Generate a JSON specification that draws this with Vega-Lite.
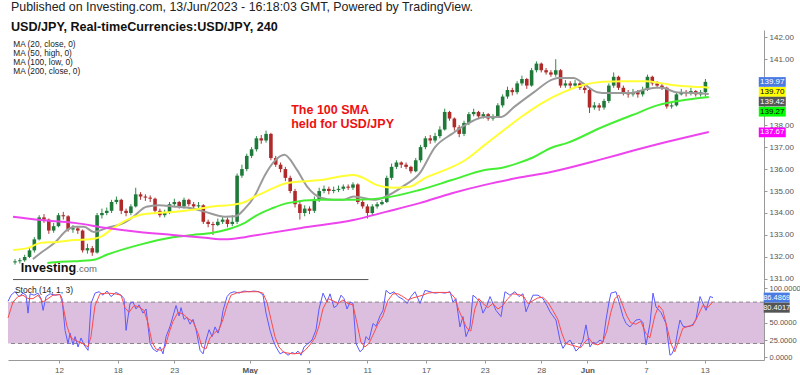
{
"$schema": "https://vega.github.io/schema/vega-lite/v6.json",
"background": "white",
"padding": {"left": 5, "top": 1, "right": 0, "bottom": 0},
"bounds": "flush",
"config": {"view": {"stroke": null}, "font": "Liberation Sans", "axis": {"labelOverlap": false, "labelFlush": false, "grid": false, "domainColor": "#999", "tickColor": "#999", "tickSize": 3, "labelColor": "#555", "labelPadding": 2}},
"title": {"text": "Published on Investing.com, 13/Jun/2023 - 16:18:03 GMT, Powered by TradingView.", "subtitle": "USD/JPY, Real-timeCurrencies:USD/JPY, 240", "anchor": "start", "frame": "bounds", "dx": 6, "font": "Liberation Sans", "fontSize": 12.4, "fontWeight": "normal", "color": "#222", "subtitleFont": "Liberation Sans", "subtitleFontSize": 12.6, "subtitleFontWeight": "bold", "subtitleColor": "#111", "subtitlePadding": 8, "offset": -4},
"datasets": {
"ohlc": [
{"i":0,"o":131.75,"h":131.9,"l":131.65,"c":131.8},{"i":1,"o":131.8,"h":131.95,"l":131.7,"c":131.85},{"i":2,"o":131.85,"h":132.1,"l":131.78,"c":132.0},{"i":3,"o":132.0,"h":132.45,"l":131.95,"c":132.3},{"i":4,"o":132.3,"h":132.9,"l":132.2,"c":132.8},{"i":5,"o":132.8,"h":133.9,"l":132.75,"c":133.8},{"i":6,"o":133.8,"h":133.95,"l":133.55,"c":133.7},{"i":7,"o":133.7,"h":133.75,"l":133.05,"c":133.2},{"i":8,"o":133.2,"h":133.55,"l":133.1,"c":133.4},{"i":9,"o":133.4,"h":134.0,"l":133.35,"c":133.9},
{"i":10,"o":133.9,"h":134.05,"l":133.7,"c":133.85},{"i":11,"o":133.85,"h":133.9,"l":133.15,"c":133.25},{"i":12,"o":133.25,"h":133.45,"l":133.1,"c":133.3},{"i":13,"o":133.3,"h":133.4,"l":133.05,"c":133.2},{"i":14,"o":133.2,"h":133.25,"l":132.2,"c":132.3},{"i":15,"o":132.3,"h":132.6,"l":132.15,"c":132.4},{"i":16,"o":132.4,"h":132.5,"l":132.05,"c":132.2},{"i":17,"o":132.2,"h":134.0,"l":132.15,"c":133.9},{"i":18,"o":133.9,"h":134.2,"l":133.75,"c":134.0},{"i":19,"o":134.0,"h":134.25,"l":133.9,"c":134.1},
{"i":20,"o":134.1,"h":134.6,"l":134.0,"c":134.5},{"i":21,"o":134.5,"h":134.75,"l":134.4,"c":134.6},{"i":22,"o":134.6,"h":134.65,"l":133.95,"c":134.1},{"i":23,"o":134.1,"h":134.2,"l":133.85,"c":134.0},{"i":24,"o":134.0,"h":134.4,"l":133.9,"c":134.3},{"i":25,"o":134.3,"h":135.15,"l":134.25,"c":134.85},{"i":26,"o":134.85,"h":134.95,"l":134.6,"c":134.75},{"i":27,"o":134.75,"h":134.85,"l":134.55,"c":134.7},{"i":28,"o":134.7,"h":134.8,"l":134.5,"c":134.65},{"i":29,"o":134.65,"h":134.7,"l":134.0,"c":134.1},
{"i":30,"o":134.1,"h":134.2,"l":133.8,"c":133.9},{"i":31,"o":133.9,"h":134.15,"l":133.8,"c":134.0},{"i":32,"o":134.0,"h":134.5,"l":133.95,"c":134.4},{"i":33,"o":134.4,"h":134.65,"l":134.3,"c":134.5},{"i":34,"o":134.5,"h":134.55,"l":134.2,"c":134.3},{"i":35,"o":134.3,"h":134.7,"l":134.2,"c":134.6},{"i":36,"o":134.6,"h":134.65,"l":134.3,"c":134.4},{"i":37,"o":134.4,"h":134.5,"l":134.2,"c":134.3},{"i":38,"o":134.3,"h":134.5,"l":134.2,"c":134.35},{"i":39,"o":134.35,"h":134.4,"l":133.5,"c":133.6},
{"i":40,"o":133.6,"h":133.7,"l":133.35,"c":133.5},{"i":41,"o":133.5,"h":133.6,"l":133.0,"c":133.45},{"i":42,"o":133.45,"h":133.75,"l":133.4,"c":133.6},{"i":43,"o":133.6,"h":133.85,"l":133.5,"c":133.7},{"i":44,"o":133.7,"h":133.8,"l":133.35,"c":133.5},{"i":45,"o":133.5,"h":133.9,"l":133.4,"c":133.6},{"i":46,"o":133.6,"h":135.8,"l":133.5,"c":135.7},{"i":47,"o":135.7,"h":136.2,"l":135.6,"c":136.0},{"i":48,"o":136.0,"h":136.7,"l":135.9,"c":136.6},{"i":49,"o":136.6,"h":137.0,"l":136.5,"c":136.9},
{"i":50,"o":136.9,"h":137.5,"l":136.8,"c":137.4},{"i":51,"o":137.4,"h":137.55,"l":137.15,"c":137.3},{"i":52,"o":137.3,"h":137.75,"l":137.2,"c":137.6},{"i":53,"o":137.6,"h":137.65,"l":136.4,"c":136.5},{"i":54,"o":136.5,"h":136.6,"l":136.1,"c":136.2},{"i":55,"o":136.2,"h":136.3,"l":135.85,"c":136.0},{"i":56,"o":136.0,"h":136.1,"l":135.45,"c":135.6},{"i":57,"o":135.6,"h":135.7,"l":134.9,"c":135.0},{"i":58,"o":135.0,"h":135.1,"l":134.25,"c":134.4},{"i":59,"o":134.4,"h":134.5,"l":133.7,"c":134.0},
{"i":60,"o":134.0,"h":134.35,"l":133.85,"c":134.2},{"i":61,"o":134.2,"h":134.3,"l":133.95,"c":134.1},{"i":62,"o":134.1,"h":134.75,"l":134.0,"c":134.6},{"i":63,"o":134.6,"h":135.15,"l":134.5,"c":135.0},{"i":64,"o":135.0,"h":135.25,"l":134.9,"c":135.1},{"i":65,"o":135.1,"h":135.2,"l":134.85,"c":135.0},{"i":66,"o":135.0,"h":135.2,"l":134.9,"c":135.05},{"i":67,"o":135.05,"h":135.25,"l":134.95,"c":135.1},{"i":68,"o":135.1,"h":135.3,"l":135.0,"c":135.2},{"i":69,"o":135.2,"h":135.3,"l":135.05,"c":135.15},
{"i":70,"o":135.15,"h":135.4,"l":135.05,"c":135.3},{"i":71,"o":135.3,"h":135.35,"l":134.4,"c":134.5},{"i":72,"o":134.5,"h":134.6,"l":134.2,"c":134.3},{"i":73,"o":134.3,"h":134.4,"l":133.75,"c":134.0},{"i":74,"o":134.0,"h":134.4,"l":133.9,"c":134.3},{"i":75,"o":134.3,"h":134.5,"l":134.2,"c":134.4},{"i":76,"o":134.4,"h":134.6,"l":134.35,"c":134.5},{"i":77,"o":134.5,"h":135.7,"l":134.45,"c":135.6},{"i":78,"o":135.6,"h":136.25,"l":135.5,"c":136.1},{"i":79,"o":136.1,"h":136.4,"l":136.0,"c":136.3},
{"i":80,"o":136.3,"h":136.35,"l":136.05,"c":136.2},{"i":81,"o":136.2,"h":136.3,"l":136.0,"c":136.1},{"i":82,"o":136.1,"h":136.15,"l":135.8,"c":135.9},{"i":83,"o":135.9,"h":136.5,"l":135.85,"c":136.4},{"i":84,"o":136.4,"h":137.1,"l":136.3,"c":137.0},{"i":85,"o":137.0,"h":137.5,"l":136.9,"c":137.4},{"i":86,"o":137.4,"h":137.55,"l":137.15,"c":137.3},{"i":87,"o":137.3,"h":137.65,"l":137.2,"c":137.5},{"i":88,"o":137.5,"h":137.95,"l":137.4,"c":137.8},{"i":89,"o":137.8,"h":138.75,"l":137.75,"c":138.6},
{"i":90,"o":138.6,"h":138.65,"l":138.2,"c":138.3},{"i":91,"o":138.3,"h":138.35,"l":137.75,"c":137.9},{"i":92,"o":137.9,"h":138.0,"l":137.45,"c":137.6},{"i":93,"o":137.6,"h":138.2,"l":137.5,"c":138.1},{"i":94,"o":138.1,"h":138.6,"l":138.0,"c":138.5},{"i":95,"o":138.5,"h":138.75,"l":138.4,"c":138.6},{"i":96,"o":138.6,"h":138.65,"l":138.3,"c":138.4},{"i":97,"o":138.4,"h":138.6,"l":138.3,"c":138.5},{"i":98,"o":138.5,"h":138.55,"l":138.2,"c":138.3},{"i":99,"o":138.3,"h":138.5,"l":138.2,"c":138.4},
{"i":100,"o":138.4,"h":139.0,"l":138.35,"c":138.9},{"i":101,"o":138.9,"h":139.4,"l":138.8,"c":139.3},{"i":102,"o":139.3,"h":139.75,"l":139.2,"c":139.6},{"i":103,"o":139.6,"h":139.7,"l":139.35,"c":139.5},{"i":104,"o":139.5,"h":140.0,"l":139.4,"c":139.9},{"i":105,"o":139.9,"h":140.25,"l":139.8,"c":140.1},{"i":106,"o":140.1,"h":140.15,"l":139.65,"c":139.8},{"i":107,"o":139.8,"h":140.6,"l":139.75,"c":140.5},{"i":108,"o":140.5,"h":140.9,"l":140.4,"c":140.8},{"i":109,"o":140.8,"h":140.85,"l":140.4,"c":140.5},
{"i":110,"o":140.5,"h":140.6,"l":140.3,"c":140.4},{"i":111,"o":140.4,"h":140.5,"l":140.2,"c":140.3},{"i":112,"o":140.3,"h":141.0,"l":140.2,"c":140.5},{"i":113,"o":140.5,"h":140.55,"l":139.7,"c":139.8},{"i":114,"o":139.8,"h":140.05,"l":139.7,"c":139.9},{"i":115,"o":139.9,"h":140.0,"l":139.65,"c":139.8},{"i":116,"o":139.8,"h":140.05,"l":139.7,"c":139.9},{"i":117,"o":139.9,"h":139.95,"l":139.6,"c":139.7},{"i":118,"o":139.7,"h":139.8,"l":139.45,"c":139.6},{"i":119,"o":139.6,"h":139.65,"l":138.55,"c":138.8},
{"i":120,"o":138.8,"h":139.05,"l":138.7,"c":138.9},{"i":121,"o":138.9,"h":139.0,"l":138.65,"c":138.8},{"i":122,"o":138.8,"h":139.2,"l":138.7,"c":139.1},{"i":123,"o":139.1,"h":139.9,"l":139.0,"c":139.8},{"i":124,"o":139.8,"h":140.4,"l":139.7,"c":140.2},{"i":125,"o":140.2,"h":140.25,"l":139.6,"c":139.7},{"i":126,"o":139.7,"h":139.8,"l":139.35,"c":139.5},{"i":127,"o":139.5,"h":139.6,"l":139.25,"c":139.4},{"i":128,"o":139.4,"h":139.65,"l":139.3,"c":139.5},{"i":129,"o":139.5,"h":139.6,"l":139.25,"c":139.4},
{"i":130,"o":139.4,"h":139.75,"l":139.3,"c":139.6},{"i":131,"o":139.6,"h":140.3,"l":139.55,"c":140.2},{"i":132,"o":140.2,"h":140.25,"l":139.8,"c":139.9},{"i":133,"o":139.9,"h":140.0,"l":139.7,"c":139.8},{"i":134,"o":139.8,"h":139.9,"l":139.6,"c":139.7},{"i":135,"o":139.7,"h":139.75,"l":138.75,"c":138.85},{"i":136,"o":138.85,"h":139.05,"l":138.75,"c":138.9},{"i":137,"o":138.9,"h":139.5,"l":138.85,"c":139.4},{"i":138,"o":139.4,"h":139.65,"l":139.35,"c":139.5},{"i":139,"o":139.5,"h":139.6,"l":139.3,"c":139.45},
{"i":140,"o":139.45,"h":139.7,"l":139.35,"c":139.55},{"i":141,"o":139.55,"h":139.6,"l":139.3,"c":139.4},{"i":142,"o":139.4,"h":139.6,"l":139.3,"c":139.5},{"i":143,"o":139.5,"h":140.1,"l":139.3,"c":139.97}
],
"ma": [
{"m":"20","i":3.7,"v":131.9},{"m":"20","i":5.3,"v":132.18},{"m":"20","i":8.2,"v":132.64},{"m":"20","i":10.8,"v":133.23},{"m":"20","i":12.3,"v":133.37},{"m":"20","i":14.3,"v":133.37},{"m":"20","i":16.3,"v":133.14},{"m":"20","i":19.0,"v":133.32},{"m":"20","i":22.5,"v":133.55},{"m":"20","i":24.5,"v":133.83},{"m":"20","i":27.2,"v":134.28},{"m":"20","i":29.8,"v":134.35},{"m":"20","i":32.7,"v":134.3},{"m":"20","i":36.8,"v":134.2},{"m":"20","i":39.4,"v":134.05},{"m":"20","i":43.5,"v":133.83},{"m":"20","i":45.6,"v":133.85},{"m":"20","i":47.6,"v":134.2},{"m":"20","i":49.7,"v":134.8},{"m":"20","i":51.7,"v":135.7},{"m":"20","i":53.7,"v":136.35},{"m":"20","i":55.8,"v":136.65},{"m":"20","i":58.4,"v":135.96},{"m":"20","i":60.5,"v":135.2},{"m":"20","i":63.3,"v":134.7},{"m":"20","i":66.0,"v":134.6},{"m":"20","i":68.0,"v":134.6},{"m":"20","i":70.1,"v":134.75},{"m":"20","i":74.8,"v":134.6},{"m":"20","i":76.8,"v":134.75},{"m":"20","i":80.3,"v":135.2},{"m":"20","i":83.8,"v":135.8},{"m":"20","i":87.0,"v":137.0},{"m":"20","i":90.5,"v":137.6},{"m":"20","i":94.0,"v":138.1},{"m":"20","i":97.3,"v":138.37},{"m":"20","i":100.7,"v":138.37},{"m":"20","i":103.4,"v":138.83},{"m":"20","i":107.5,"v":139.5},{"m":"20","i":111.0,"v":140.05},{"m":"20","i":112.4,"v":140.15},{"m":"20","i":115.7,"v":140.15},{"m":"20","i":117.7,"v":139.9},{"m":"20","i":120.6,"v":139.5},{"m":"20","i":122.6,"v":139.46},{"m":"20","i":127.3,"v":139.46},{"m":"20","i":130.8,"v":139.64},{"m":"20","i":132.8,"v":139.7},{"m":"20","i":134.0,"v":139.7},{"m":"20","i":136.9,"v":139.5},{"m":"20","i":141.0,"v":139.46},{"m":"20","i":143.7,"v":139.42},
{"m":"50","i":-0.42,"v":132.32},{"m":"50","i":2.6,"v":132.4},{"m":"50","i":5.3,"v":132.64},{"m":"50","i":8.8,"v":132.68},{"m":"50","i":12.3,"v":132.77},{"m":"50","i":15.5,"v":132.8},{"m":"50","i":17.6,"v":132.9},{"m":"50","i":20.4,"v":133.32},{"m":"50","i":23.1,"v":133.68},{"m":"50","i":25.7,"v":133.9},{"m":"50","i":29.2,"v":134.0},{"m":"50","i":32.7,"v":134.05},{"m":"50","i":36.8,"v":134.15},{"m":"50","i":40.9,"v":134.3},{"m":"50","i":45.0,"v":134.37},{"m":"50","i":47.6,"v":134.5},{"m":"50","i":49.7,"v":134.75},{"m":"50","i":51.7,"v":134.95},{"m":"50","i":56.4,"v":135.37},{"m":"50","i":63.3,"v":135.5},{"m":"50","i":70.1,"v":135.73},{"m":"50","i":72.1,"v":135.6},{"m":"50","i":74.8,"v":135.28},{"m":"50","i":78.3,"v":135.15},{"m":"50","i":81.7,"v":135.2},{"m":"50","i":85.0,"v":135.6},{"m":"50","i":89.1,"v":135.96},{"m":"50","i":93.2,"v":136.4},{"m":"50","i":97.3,"v":137.1},{"m":"50","i":101.4,"v":137.8},{"m":"50","i":105.4,"v":138.46},{"m":"50","i":109.5,"v":139.05},{"m":"50","i":113.6,"v":139.5},{"m":"50","i":117.7,"v":139.83},{"m":"50","i":121.8,"v":139.97},{"m":"50","i":125.9,"v":140.0},{"m":"50","i":130.8,"v":140.0},{"m":"50","i":134.0,"v":139.9},{"m":"50","i":138.1,"v":139.78},{"m":"50","i":142.2,"v":139.73},{"m":"50","i":143.7,"v":139.7},
{"m":"100","i":6.7,"v":131.72},{"m":"100","i":9.4,"v":131.78},{"m":"100","i":12.3,"v":131.8},{"m":"100","i":16.3,"v":131.87},{"m":"100","i":19.0,"v":132.1},{"m":"100","i":25.7,"v":132.55},{"m":"100","i":32.7,"v":132.9},{"m":"100","i":36.8,"v":133.0},{"m":"100","i":40.9,"v":133.1},{"m":"100","i":45.0,"v":133.32},{"m":"100","i":47.6,"v":133.55},{"m":"100","i":49.7,"v":133.85},{"m":"100","i":53.1,"v":134.2},{"m":"100","i":56.4,"v":134.45},{"m":"100","i":63.3,"v":134.6},{"m":"100","i":70.1,"v":134.6},{"m":"100","i":76.8,"v":134.7},{"m":"100","i":83.8,"v":135.05},{"m":"100","i":90.5,"v":135.5},{"m":"100","i":97.3,"v":135.96},{"m":"100","i":100.7,"v":136.05},{"m":"100","i":104.2,"v":136.27},{"m":"100","i":107.5,"v":136.55},{"m":"100","i":111.0,"v":136.96},{"m":"100","i":114.4,"v":137.19},{"m":"100","i":121.2,"v":137.87},{"m":"100","i":127.9,"v":138.46},{"m":"100","i":133.4,"v":138.92},{"m":"100","i":139.0,"v":139.15},{"m":"100","i":143.7,"v":139.28},
{"m":"200","i":-0.42,"v":133.83},{"m":"200","i":5.3,"v":133.68},{"m":"200","i":12.3,"v":133.55},{"m":"200","i":19.0,"v":133.32},{"m":"200","i":25.7,"v":133.14},{"m":"200","i":32.7,"v":133.0},{"m":"200","i":39.4,"v":132.87},{"m":"200","i":43.5,"v":132.8},{"m":"200","i":47.6,"v":132.9},{"m":"200","i":51.7,"v":133.05},{"m":"200","i":59.3,"v":133.32},{"m":"200","i":70.1,"v":133.68},{"m":"200","i":76.8,"v":134.05},{"m":"200","i":83.8,"v":134.45},{"m":"200","i":90.5,"v":134.9},{"m":"200","i":97.3,"v":135.28},{"m":"200","i":104.2,"v":135.6},{"m":"200","i":111.0,"v":135.87},{"m":"200","i":121.2,"v":136.43},{"m":"200","i":127.9,"v":136.83},{"m":"200","i":134.9,"v":137.23},{"m":"200","i":143.7,"v":137.69}
],
"tags": [
{"m":"px","t":"139.97","ly":139.965},{"m":"50","t":"139.70","ly":139.51},{"m":"20","t":"139.42","ly":139.07},{"m":"100","t":"139.27","ly":138.61},{"m":"200","t":"137.67","ly":137.67}
],
"stags": [
{"m":"k","t":"86.4869","ly":86.49},{"m":"d","t":"80.4017","ly":71.9}
],
"k": [
{"i":-0.41,"v":81},{"i":0.2,"v":90},{"i":1.0,"v":95},{"i":1.84,"v":88},{"i":2.66,"v":93},{"i":3.27,"v":90},{"i":3.68,"v":64},{"i":4.09,"v":92},{"i":4.9,"v":90},{"i":5.72,"v":93},{"i":6.34,"v":85},{"i":6.75,"v":68},{"i":7.36,"v":88},{"i":8.18,"v":92},{"i":9.2,"v":90},{"i":10.22,"v":91},{"i":10.63,"v":85},{"i":11.24,"v":39},{"i":11.85,"v":20},{"i":12.26,"v":35},{"i":12.88,"v":18},{"i":13.29,"v":30},{"i":13.9,"v":15},{"i":14.51,"v":28},{"i":15.13,"v":18},{"i":15.94,"v":10},{"i":16.56,"v":78},{"i":17.37,"v":93},{"i":18.19,"v":95},{"i":19.0,"v":90},{"i":19.82,"v":96},{"i":20.64,"v":88},{"i":21.66,"v":94},{"i":22.68,"v":90},{"i":23.3,"v":85},{"i":23.71,"v":39},{"i":24.52,"v":78},{"i":25.14,"v":80},{"i":25.75,"v":70},{"i":26.36,"v":76},{"i":27.18,"v":64},{"i":27.8,"v":70},{"i":28.62,"v":20},{"i":29.23,"v":12},{"i":30.05,"v":8},{"i":30.66,"v":15},{"i":31.27,"v":5},{"i":31.89,"v":30},{"i":32.7,"v":45},{"i":33.32,"v":60},{"i":33.93,"v":75},{"i":34.54,"v":60},{"i":34.95,"v":72},{"i":35.56,"v":55},{"i":36.18,"v":58},{"i":36.79,"v":48},{"i":37.4,"v":55},{"i":38.02,"v":40},{"i":38.84,"v":10},{"i":39.45,"v":5},{"i":40.06,"v":25},{"i":40.68,"v":40},{"i":41.29,"v":30},{"i":41.9,"v":44},{"i":42.52,"v":35},{"i":43.13,"v":50},{"i":43.54,"v":68},{"i":44.36,"v":88},{"i":44.97,"v":93},{"i":45.79,"v":95},{"i":46.81,"v":93},{"i":47.83,"v":96},{"i":48.85,"v":95},{"i":49.87,"v":96},{"i":50.89,"v":95},{"i":51.71,"v":90},{"i":52.32,"v":64},{"i":53.14,"v":39},{"i":53.75,"v":25},{"i":54.36,"v":15},{"i":55.18,"v":5},{"i":56.0,"v":8},{"i":56.82,"v":3},{"i":57.63,"v":7},{"i":58.25,"v":5},{"i":58.86,"v":9},{"i":59.47,"v":3},{"i":60.09,"v":15},{"i":60.9,"v":20},{"i":61.72,"v":25},{"i":62.54,"v":40},{"i":63.15,"v":70},{"i":63.97,"v":93},{"i":64.79,"v":80},{"i":65.4,"v":92},{"i":66.22,"v":72},{"i":66.83,"v":75},{"i":67.65,"v":90},{"i":68.26,"v":85},{"i":68.87,"v":70},{"i":69.49,"v":80},{"i":70.1,"v":78},{"i":70.71,"v":20},{"i":71.53,"v":8},{"i":72.14,"v":12},{"i":72.76,"v":30},{"i":73.37,"v":25},{"i":74.19,"v":49},{"i":74.8,"v":45},{"i":75.62,"v":60},{"i":76.23,"v":68},{"i":76.85,"v":97},{"i":77.66,"v":92},{"i":78.48,"v":95},{"i":79.3,"v":88},{"i":80.32,"v":84},{"i":81.14,"v":78},{"i":81.95,"v":88},{"i":82.77,"v":95},{"i":83.79,"v":78},{"i":84.81,"v":97},{"i":85.83,"v":95},{"i":86.85,"v":93},{"i":87.88,"v":94},{"i":88.9,"v":93},{"i":89.92,"v":95},{"i":90.53,"v":80},{"i":91.14,"v":85},{"i":91.96,"v":44},{"i":92.57,"v":59},{"i":93.19,"v":30},{"i":94.0,"v":44},{"i":94.62,"v":90},{"i":95.44,"v":85},{"i":96.05,"v":80},{"i":96.66,"v":64},{"i":97.48,"v":75},{"i":98.1,"v":88},{"i":98.71,"v":78},{"i":99.32,"v":68},{"i":100.34,"v":59},{"i":101.16,"v":95},{"i":102.18,"v":90},{"i":103.2,"v":95},{"i":104.02,"v":88},{"i":104.84,"v":92},{"i":105.45,"v":66},{"i":106.27,"v":80},{"i":106.88,"v":90},{"i":107.9,"v":90},{"i":108.93,"v":85},{"i":109.74,"v":75},{"i":110.36,"v":66},{"i":110.97,"v":60},{"i":111.58,"v":54},{"i":112.4,"v":25},{"i":113.01,"v":13},{"i":113.62,"v":20},{"i":114.44,"v":25},{"i":115.06,"v":18},{"i":115.67,"v":9},{"i":116.49,"v":15},{"i":117.1,"v":25},{"i":117.71,"v":47},{"i":118.53,"v":15},{"i":119.15,"v":22},{"i":119.76,"v":20},{"i":120.58,"v":25},{"i":121.19,"v":22},{"i":121.8,"v":54},{"i":122.42,"v":80},{"i":122.83,"v":93},{"i":123.85,"v":95},{"i":124.67,"v":75},{"i":125.28,"v":59},{"i":125.9,"v":49},{"i":126.71,"v":44},{"i":127.32,"v":49},{"i":127.94,"v":54},{"i":128.75,"v":55},{"i":129.37,"v":50},{"i":129.98,"v":18},{"i":130.8,"v":49},{"i":131.41,"v":93},{"i":132.02,"v":73},{"i":133.04,"v":65},{"i":134.07,"v":49},{"i":134.88,"v":3},{"i":135.29,"v":5},{"i":135.9,"v":15},{"i":136.52,"v":40},{"i":136.93,"v":54},{"i":137.54,"v":45},{"i":138.15,"v":44},{"i":138.97,"v":45},{"i":139.59,"v":48},{"i":140.2,"v":55},{"i":141.02,"v":88},{"i":141.63,"v":78},{"i":142.25,"v":68},{"i":143.06,"v":88},{"i":143.68,"v":86.5}
],
"d": [
{"i":-0.42,"v":57},{"i":0.6,"v":80},{"i":1.62,"v":88},{"i":2.64,"v":90},{"i":3.66,"v":85},{"i":4.69,"v":85},{"i":5.71,"v":90},{"i":6.73,"v":80},{"i":7.75,"v":85},{"i":8.77,"v":90},{"i":10.21,"v":91},{"i":10.82,"v":75},{"i":11.63,"v":45},{"i":12.45,"v":28},{"i":13.27,"v":25},{"i":14.09,"v":22},{"i":14.9,"v":20},{"i":15.93,"v":15},{"i":16.54,"v":30},{"i":17.36,"v":75},{"i":18.38,"v":92},{"i":20.02,"v":93},{"i":21.45,"v":92},{"i":22.67,"v":90},{"i":23.49,"v":72},{"i":24.31,"v":65},{"i":25.33,"v":75},{"i":26.35,"v":73},{"i":27.37,"v":68},{"i":28.19,"v":50},{"i":29.01,"v":22},{"i":29.82,"v":12},{"i":30.85,"v":10},{"i":31.67,"v":15},{"i":32.48,"v":35},{"i":33.3,"v":52},{"i":34.32,"v":65},{"i":35.34,"v":63},{"i":36.37,"v":56},{"i":37.39,"v":52},{"i":38.41,"v":35},{"i":39.23,"v":15},{"i":40.04,"v":12},{"i":40.86,"v":28},{"i":41.88,"v":36},{"i":42.7,"v":40},{"i":43.52,"v":55},{"i":44.33,"v":75},{"i":45.15,"v":90},{"i":46.58,"v":94},{"i":48.63,"v":95},{"i":50.67,"v":95},{"i":51.69,"v":93},{"i":52.51,"v":80},{"i":53.33,"v":55},{"i":54.14,"v":30},{"i":54.96,"v":15},{"i":55.98,"v":7},{"i":57.82,"v":5},{"i":59.46,"v":6},{"i":60.27,"v":10},{"i":61.29,"v":18},{"i":62.31,"v":28},{"i":63.13,"v":45},{"i":63.95,"v":70},{"i":64.97,"v":85},{"i":65.99,"v":82},{"i":67.01,"v":78},{"i":68.03,"v":83},{"i":69.05,"v":78},{"i":70.08,"v":76},{"i":70.89,"v":50},{"i":71.71,"v":22},{"i":72.53,"v":15},{"i":73.34,"v":20},{"i":74.16,"v":32},{"i":75.18,"v":48},{"i":76.2,"v":60},{"i":77.22,"v":82},{"i":78.25,"v":92},{"i":79.27,"v":92},{"i":80.29,"v":88},{"i":81.31,"v":83},{"i":82.33,"v":86},{"i":83.35,"v":88},{"i":84.37,"v":90},{"i":85.4,"v":93},{"i":86.83,"v":94},{"i":88.46,"v":94},{"i":89.89,"v":94},{"i":90.91,"v":86},{"i":91.73,"v":68},{"i":92.55,"v":55},{"i":93.37,"v":42},{"i":94.18,"v":38},{"i":95.0,"v":70},{"i":95.82,"v":85},{"i":96.64,"v":78},{"i":97.66,"v":72},{"i":98.68,"v":78},{"i":99.7,"v":70},{"i":100.72,"v":75},{"i":101.74,"v":85},{"i":102.76,"v":92},{"i":103.99,"v":91},{"i":105.01,"v":88},{"i":105.83,"v":78},{"i":106.85,"v":82},{"i":107.87,"v":86},{"i":108.89,"v":87},{"i":109.91,"v":80},{"i":110.93,"v":68},{"i":111.96,"v":55},{"i":112.77,"v":35},{"i":113.59,"v":20},{"i":114.61,"v":18},{"i":115.63,"v":16},{"i":116.65,"v":14},{"i":117.47,"v":22},{"i":118.29,"v":28},{"i":119.11,"v":20},{"i":120.13,"v":18},{"i":121.15,"v":22},{"i":121.97,"v":38},{"i":122.79,"v":65},{"i":123.6,"v":85},{"i":124.42,"v":90},{"i":125.24,"v":75},{"i":126.06,"v":60},{"i":126.88,"v":50},{"i":127.9,"v":48},{"i":128.92,"v":52},{"i":129.94,"v":35},{"i":130.76,"v":28},{"i":131.78,"v":60},{"i":132.6,"v":75},{"i":133.41,"v":68},{"i":134.23,"v":45},{"i":135.05,"v":20},{"i":135.87,"v":8},{"i":136.69,"v":25},{"i":137.5,"v":42},{"i":138.53,"v":45},{"i":139.55,"v":46},{"i":140.57,"v":60},{"i":141.59,"v":75},{"i":142.61,"v":72},{"i":143.63,"v":80.4}
]
},
"spacing": 0,
"vconcat": [
{
"width": 756, "height": 250,
"layer": [
{"data": {"name": "ohlc"}, "mark": {"type": "rule", "strokeWidth": 1},
 "encoding": {
  "x": {"field": "i", "type": "quantitative", "scale": {"domain": [-0.42, 154.1], "nice": false, "zero": false}, "axis": null},
  "y": {"field": "l", "type": "quantitative", "scale": {"domain": [130.95, 142.33], "nice": false, "zero": false},
        "axis": {"orient": "right", "title": null, "values": [131,132,133,134,135,136,137,138,141,142], "format": ".2f", "labelFontSize": 8}},
  "y2": {"field": "h"},
  "color": {"condition": {"test": "datum.c >= datum.o", "value": "#2e8b47"}, "value": "#b03434"}
 }},
{"data": {"name": "ohlc"}, "mark": {"type": "bar", "size": 3.6},
 "encoding": {
  "x": {"field": "i", "type": "quantitative", "axis": null},
  "y": {"field": "o", "type": "quantitative", "axis": {"orient": "right", "title": null, "values": [131,132,133,134,135,136,137,138,141,142], "format": ".2f", "labelFontSize": 8}},
  "y2": {"field": "c"},
  "color": {"condition": {"test": "datum.c >= datum.o", "value": "#1f7a3a"}, "value": "#b02a2a"}
 }},
{"data": {"name": "ma"}, "mark": {"type": "line", "strokeWidth": 2, "interpolate": "monotone"},
 "encoding": {
  "x": {"field": "i", "type": "quantitative", "axis": null},
  "y": {"field": "v", "type": "quantitative", "axis": {"orient": "right", "title": null, "values": [131,132,133,134,135,136,137,138,141,142], "format": ".2f", "labelFontSize": 8}},
  "color": {"field": "m", "type": "nominal", "scale": {"domain": ["20","50","100","200"], "range": ["#9a9a9a","#ffff33","#44ee33","#ee44ee"]},
            "legend": {"orient": "none", "legendX": -3, "legendY": 11, "title": null, "symbolSize": 0, "symbolStrokeWidth": 0, "labelOffset": 0, "labelFontSize": 8.3, "labelColor": "#222", "rowPadding": 0, "padding": 0,
             "labelExpr": "'MA (' + datum.label + ', ' + (datum.label == '50' ? 'high' : datum.label == '100' ? 'low' : 'close') + ', 0)'"}}
 }},
{"mark": {"type": "rule", "color": "#7f9be6", "strokeDash": [1, 1.5], "strokeWidth": 1},
 "encoding": {"y": {"datum": 139.97, "axis": {"orient": "right", "title": null, "values": [131,132,133,134,135,136,137,138,141,142], "format": ".2f", "labelFontSize": 8}}}},
{"data": {"values": [{"a": 0}]}, "mark": {"type": "rule", "color": "#555", "strokeWidth": 1},
 "encoding": {"x": {"datum": -0.42, "axis": null}, "x2": {"datum": 73.2}, "y": {"datum": 130.97, "axis": {"orient": "right", "title": null, "values": [131,132,133,134,135,136,137,138,141,142], "format": ".2f", "labelFontSize": 8}}}},
{"data": {"values": [{"t": "Investing"}]}, "mark": {"type": "text", "align": "left", "baseline": "middle", "fontWeight": "bold", "fontSize": 12.6, "color": "#111"},
 "encoding": {"x": {"datum": 1.2, "axis": null}, "y": {"datum": 131.5, "axis": {"orient": "right", "title": null, "values": [131,132,133,134,135,136,137,138,141,142], "format": ".2f", "labelFontSize": 8}}, "text": {"field": "t"}}},
{"data": {"values": [{"t": ".com"}]}, "mark": {"type": "text", "align": "left", "baseline": "middle", "fontSize": 9.5, "color": "#666", "dy": 1},
 "encoding": {"x": {"datum": 12.7, "axis": null}, "y": {"datum": 131.5, "axis": {"orient": "right", "title": null, "values": [131,132,133,134,135,136,137,138,141,142], "format": ".2f", "labelFontSize": 8}}, "text": {"field": "t"}}},
{"data": {"values": [{"t": "The 100 SMA", "p": 138.69}, {"t": "held for USD/JPY", "p": 138.03}]}, "mark": {"type": "text", "align": "left", "baseline": "middle", "fontWeight": "bold", "fontSize": 12.5, "color": "#ee1111"},
 "encoding": {"x": {"datum": 57.2, "axis": null}, "y": {"field": "p", "type": "quantitative", "axis": {"orient": "right", "title": null, "values": [131,132,133,134,135,136,137,138,141,142], "format": ".2f", "labelFontSize": 8}}, "text": {"field": "t"}}},
{"data": {"name": "tags"}, "mark": {"type": "point", "filled": true, "opacity": 1, "size": 729, "shape": "M-1,-0.36H1V0.36H-1Z", "clip": false},
 "encoding": {"x": {"datum": 156.85, "axis": null}, "y": {"field": "ly", "type": "quantitative", "axis": {"orient": "right", "title": null, "values": [131,132,133,134,135,136,137,138,141,142], "format": ".2f", "labelFontSize": 8}},
  "fill": {"field": "m", "type": "nominal", "legend": null, "scale": {"domain": ["px","20","50","100","200"], "range": ["#4a7be3","#555555","#ffff00","#00ff00","#ff00ff"]}}}},
{"data": {"name": "tags"}, "mark": {"type": "text", "align": "center", "baseline": "middle", "fontSize": 8, "clip": false},
 "encoding": {"x": {"datum": 156.85, "axis": null}, "y": {"field": "ly", "type": "quantitative", "axis": {"orient": "right", "title": null, "values": [131,132,133,134,135,136,137,138,141,142], "format": ".2f", "labelFontSize": 8}}, "text": {"field": "t"},
  "color": {"condition": {"test": "datum.m == '50' || datum.m == '100'", "value": "#000"}, "value": "#fff"}}}
]
},
{
"width": 756, "height": 80,
"layer": [
{"data": {"values": [{"a": 0}]}, "mark": {"type": "rect", "color": "#dcbfdf"},
 "encoding": {"y": {"datum": 20, "type": "quantitative", "scale": {"domain": [-3.9, 112], "nice": false, "zero": false}, "axis": {"orient": "right", "title": null, "values": [0, 25, 50, 100], "format": ".4f", "labelFontSize": 7.5}}, "y2": {"datum": 80}}},
{"data": {"values": [{"v": 20}, {"v": 80}]}, "mark": {"type": "rule", "color": "#888", "strokeDash": [4, 3], "strokeWidth": 1},
 "encoding": {"y": {"field": "v", "type": "quantitative", "axis": {"orient": "right", "title": null, "values": [0, 25, 50, 100], "format": ".4f", "labelFontSize": 7.5}}}},
{"data": {"name": "k"}, "mark": {"type": "line", "color": "#5a5aff", "strokeWidth": 1},
 "encoding": {
  "x": {"field": "i", "type": "quantitative", "scale": {"domain": [-0.42, 154.1], "nice": false, "zero": false},
        "axis": {"title": null, "values": [10, 22, 33.55, 49, 61, 73, 85, 97, 108.55, 118, 130, 142], "labelFontSize": 8, "labelPadding": 3,
                 "labelFontWeight": {"condition": {"test": "datum.value == 49 || datum.value == 118", "value": "bold"}, "value": "normal"},
                 "labelExpr": "datum.value == 10 ? '12' : datum.value == 22 ? '18' : datum.value == 33.55 ? '23' : datum.value == 49 ? 'May' : datum.value == 61 ? '5' : datum.value == 73 ? '11' : datum.value == 85 ? '17' : datum.value == 97 ? '23' : datum.value == 108.55 ? '28' : datum.value == 118 ? 'Jun' : datum.value == 130 ? '7' : '13'"}},
  "y": {"field": "v", "type": "quantitative", "axis": {"orient": "right", "title": null, "values": [0, 25, 50, 100], "format": ".4f", "labelFontSize": 7.5}}
 }},
{"data": {"name": "d"}, "mark": {"type": "line", "color": "#ff4a4a", "strokeWidth": 1},
 "encoding": {"x": {"field": "i", "type": "quantitative"}, "y": {"field": "v", "type": "quantitative", "axis": {"orient": "right", "title": null, "values": [0, 25, 50, 100], "format": ".4f", "labelFontSize": 7.5}}}},
{"data": {"values": [{"t": "Stoch (14, 1, 3)"}]}, "mark": {"type": "text", "align": "left", "baseline": "middle", "fontSize": 8.5, "color": "#222"},
 "encoding": {"x": {"datum": 1.0}, "y": {"datum": 97.5, "axis": {"orient": "right", "title": null, "values": [0, 25, 50, 100], "format": ".4f", "labelFontSize": 7.5}}, "text": {"field": "t"}}},
{"data": {"name": "stags"}, "mark": {"type": "point", "filled": true, "opacity": 1, "size": 676, "shape": "M-1,-0.385H1V0.385H-1Z", "clip": false},
 "encoding": {"x": {"datum": 156.7}, "y": {"field": "ly", "type": "quantitative", "axis": {"orient": "right", "title": null, "values": [0, 25, 50, 100], "format": ".4f", "labelFontSize": 7.5}},
  "fill": {"field": "m", "type": "nominal", "legend": null, "scale": {"domain": ["k","d"], "range": ["#0000ff","#ff0000"]}}}},
{"data": {"name": "stags"}, "mark": {"type": "text", "align": "center", "baseline": "middle", "fontSize": 7.5, "color": "#fff", "clip": false},
 "encoding": {"x": {"datum": 156.7}, "y": {"field": "ly", "type": "quantitative", "axis": {"orient": "right", "title": null, "values": [0, 25, 50, 100], "format": ".4f", "labelFontSize": 7.5}}, "text": {"field": "t"}}}
]
}
]
}
